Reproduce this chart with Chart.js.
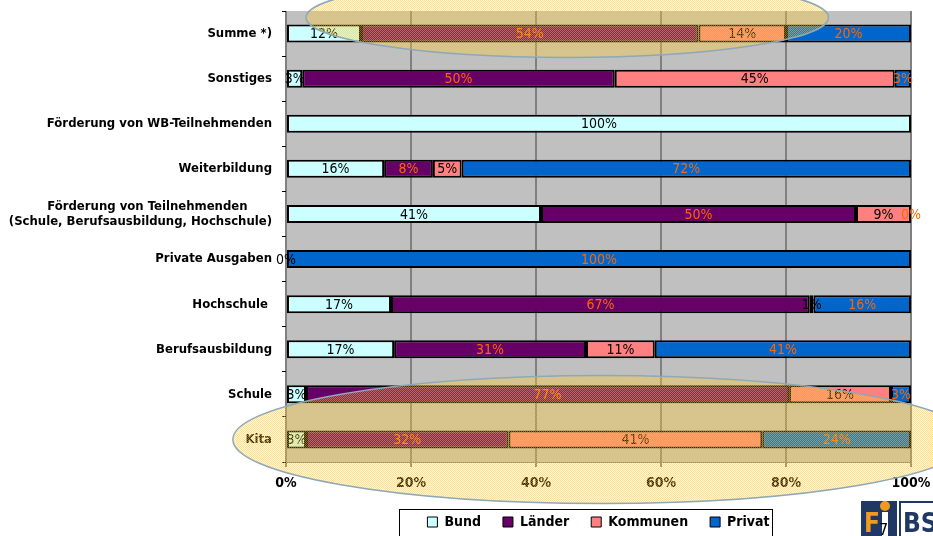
<!DOCTYPE html>
<html>
<head>
<meta charset="utf-8">
<script src="https://cdn.jsdelivr.net/npm/chart.js@4"></script>
<style>
  html, body { margin: 0; padding: 0; background: #fff; }
  #wrap { width: 933px; height: 536px; position: relative; }
</style>
</head>
<body>
<div id="wrap"><canvas id="myChart1"></canvas></div>
<script>
// categories top to bottom
const categories = [
  "Summe *)",
  "Sonstiges",
  "Förderung von WB-Teilnehmenden",
  "Weiterbildung",
  ["Förderung von Teilnehmenden      ", "(Schule, Berufsausbildung, Hochschule)"],
  "Private Ausgaben",
  "Hochschule ",
  "Berufsausbildung",
  "Schule",
  "Kita"
];
// shares in percent
const bund     = [12, 2.6, 100, 15.7, 40.8, 0,   16.8, 17.3, 3.2, 3.2];
const laender  = [54, 50,  null, 7.8, 50.4, null, 67.0, 30.7, 77.3, 32.4];
const kommunen = [14, 44.8, null, 4.6, 8.8, null, 0.6, 11.0, 16.3, 40.6];
const privat   = [20, 2.6, null, 71.9, 0,   100,  15.6, 41.0, 3.2, 23.8];
const xTicks = [0, 20, 40, 60, 80, 100];

const FONT = "'DejaVu Sans Condensed', 'Liberation Sans Narrow', 'Open Sans', sans-serif";
const ORANGE = "#FF6600";

// grey plot background
const plotBg = {
  id: "plotBg",
  beforeDraw(chart) {
    const a = chart.chartArea, c = chart.ctx;
    c.save();
    c.fillStyle = "#C0C0C0";
    c.fillRect(a.left, a.top, a.right - a.left, a.bottom - a.top);
    c.restore();
  }
};

// percent labels in the middle of each segment
const valueLabels = {
  id: "valueLabels",
  afterDatasetsDraw(chart) {
    const c = chart.ctx;
    c.save();
    c.font = "14px " + FONT;
    c.textAlign = "center";
    c.textBaseline = "middle";
    chart.data.datasets.forEach((ds, i) => {
      const meta = chart.getDatasetMeta(i);
      meta.data.forEach((bar, j) => {
        const v = ds.data[j];
        if (v === null) return;
        const p = bar.getProps(["x", "y", "base"], true);
        c.fillStyle = ds.labelColor;
        c.fillText(Math.round(v) + "%", (p.x + p.base) / 2, p.y + 1);
      });
    });
    c.restore();
  }
};

// yellow highlight ellipses, logo, legend frame
const extras = {
  id: "extras",
  afterDraw(chart) {
    const c = chart.ctx;
    const xs = chart.scales.x, ys = chart.scales.y;

    // legend frame
    const hb = chart.legend.legendHitBoxes;
    if (hb && hb.length) {
      const l = Math.min(...hb.map(h => h.left)) - 28;
      const r = Math.max(...hb.map(h => h.left + h.width)) + 3;
      const t = hb[0].top - 6;
      c.save();
      c.strokeStyle = "#000";
      c.lineWidth = 1;
      c.strokeRect(Math.round(l) + 0.5, Math.round(t) + 0.5, Math.round(r - l), 40);
      c.restore();
    }

    // dotted yellow pattern
    const pc = document.createElement("canvas");
    pc.width = 2; pc.height = 2;
    const px = pc.getContext("2d");
    px.fillStyle = "rgba(255, 208, 70, 0.18)";
    px.fillRect(1, 0, 1, 1);
    px.fillRect(0, 1, 1, 1);
    px.fillStyle = "rgba(255, 200, 40, 0.55)";
    px.fillRect(0, 0, 1, 1);
    px.fillRect(1, 1, 1, 1);
    const pat = c.createPattern(pc, "repeat");

    const ell = (cx, cy, rx, ry) => {
      c.save();
      c.beginPath();
      c.ellipse(cx, cy, rx, ry, 0, 0, Math.PI * 2);
      c.fillStyle = pat;
      c.fill();
      c.strokeStyle = "#8EA8B6";
      c.lineWidth = 1.5;
      c.stroke();
      c.restore();
    };
    const w = xs.getPixelForValue(100) - xs.getPixelForValue(0);
    ell(xs.getPixelForValue(45), ys.getPixelForValue(0) - 16, w * 0.418, 40);
    ell(xs.getPixelForValue(50.5), ys.getPixelForValue(9), w * 0.59, 64);

    // logo in the corner
    const W = chart.width, H = chart.height;
    c.save();
    c.fillStyle = "#1F3864";
    c.fillRect(W - 72, H - 35, 36, 35);
    c.fillRect(W - 34, H - 35, 34, 35);
    c.fillStyle = "#fff";
    c.fillRect(W - 32, H - 33, 32, 35);
    c.fillStyle = "#F39A1E";
    c.font = "bold 26px " + FONT;
    c.textBaseline = "alphabetic";
    c.textAlign = "left";
    c.fillText("F", W - 69, H - 4);
    c.beginPath();
    c.arc(W - 48, H - 30, 5, 0, Math.PI * 2);
    c.fill();
    c.fillStyle = "#fff";
    c.fillRect(W - 51, H - 24, 6, 24);
    c.fillStyle = "#1F3864";
    c.fillText("BS", W - 30, H - 4);
    c.fillStyle = "#000";
    c.font = "16px " + FONT;
    c.fillText("7", W - 54, H - 1);
    c.restore();
  }
};

const graphData = {
  labels: categories,
  datasets: [
    { label: "Bund", data: bund, backgroundColor: "#CCFFFF", labelColor: "#000" },
    { label: "Länder", data: laender, backgroundColor: "#660066", labelColor: ORANGE },
    { label: "Kommunen", data: kommunen, backgroundColor: "#FF8080", labelColor: "#000" },
    { label: "Privat", data: privat, backgroundColor: "#0066CC", labelColor: ORANGE }
  ]
};
graphData.datasets.forEach(ds => {
  ds.borderColor = "#000";
  ds.borderWidth = 2;
  ds.borderSkipped = false;
  ds.barPercentage = 0.4;
  ds.categoryPercentage = 1;
});

const noPad = s => { s.paddingTop = 0; s.paddingBottom = 0; s.paddingLeft = 0; s.paddingRight = 0; };

const ctx1 = document.getElementById("myChart1").getContext("2d");
const myChart1 = new Chart(ctx1, {
  type: "bar",
  data: graphData,
  options: {
    indexAxis: "y",
    responsive: true,
    maintainAspectRatio: false,
    animation: false,
    layout: { padding: { left: 0, right: 22, top: 11, bottom: -3 } },
    scales: {
      x: {
        stacked: true,
        min: 0,
        max: 100,
        afterBuildTicks: s => { s.ticks = xTicks.map(v => ({ value: v })); },
        afterFit: s => { s.height = 31; noPad(s); },
        ticks: {
          callback: v => v + "%",
          color: "#000",
          font: { family: FONT, size: 14, weight: "bold" },
          padding: 8
        },
        grid: { color: "#808080", lineWidth: 2, tickColor: "#000", tickLength: 5, tickWidth: 1 },
        border: { color: "#808080", width: 1 }
      },
      y: {
        stacked: true,
        afterFit: s => { s.width = 286; noPad(s); },
        ticks: {
          color: "#000",
          font: { family: FONT, size: 13, weight: "bold" },
          padding: 10
        },
        grid: { drawOnChartArea: false, tickColor: "#000", tickLength: 4, tickWidth: 1 },
        border: { color: "#808080", width: 1 }
      }
    },
    plugins: {
      tooltip: { enabled: false },
      legend: {
        position: "bottom",
        fullSize: false,
        labels: {
          color: "#000",
          font: { family: FONT, size: 14, weight: "bold" },
          boxWidth: 10,
          boxHeight: 10,
          padding: 22,
          generateLabels: chart => {
            const items = Chart.defaults.plugins.legend.labels.generateLabels(chart);
            items.forEach(it => { it.lineWidth = 1; it.strokeStyle = "#000"; });
            return items;
          }
        }
      }
    }
  },
  plugins: [plotBg, valueLabels, extras]
});
</script>
</body>
</html>
